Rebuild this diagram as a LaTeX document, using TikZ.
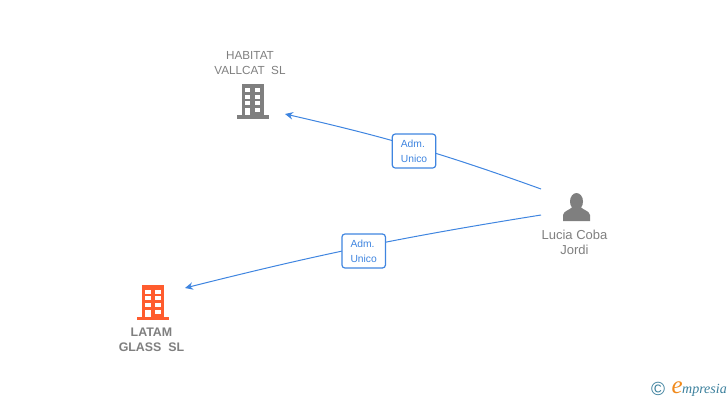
\documentclass[tikz,border=0pt]{standalone}
\usepackage{fontspec}
\usetikzlibrary{arrows.meta}
\setmainfont{Liberation Sans}
\newfontfamily\logofont{Liberation Serif}
\definecolor{nodegrey}{HTML}{7F7F7F}
\definecolor{linkblue}{HTML}{3F85E0}
\definecolor{mainorange}{HTML}{FF5C2E}
\definecolor{logoteal}{HTML}{3A7F9C}
\definecolor{logoorange}{HTML}{F08A1D}
\tikzset{
  conn/.style = {draw = linkblue, line width = 1pt, -{Stealth[length = 8pt, width = 7.5pt]}},
  rolebox/.style = {draw = linkblue, fill = white, rounded corners = 3pt, line width = 1.2pt, minimum width = 43.5pt, minimum height = 34pt, inner sep = 0pt, align = left, text = linkblue, font = \fontsize{10.3}{15}\selectfont},
  nodetext/.style = {text = nodegrey, align = center, inner sep = 0pt, font = \fontsize{11.7}{15}\selectfont},
  pics/buildingicon/.style = {code = {
    \fill[#1] (-11, -16.5) rectangle (11, 16);
    \fill[#1] (-16, 15) rectangle (16, 18.5);
    \foreach \ypos in {-12, -5.5, 1} {
      \fill[white] (-7.7, \ypos) rectangle (-2.3, \ypos + 4.4);
      \fill[white] (2.3, \ypos) rectangle (7.7, \ypos + 4.4);
    }
    \fill[white] (-7.7, 8) rectangle (-2.3, 15);
    \fill[white] (2.3, 8) rectangle (7.7, 12.4);
  }}
}
\begin{document}
\begin{tikzpicture}[x = 1pt, y = -1pt]
\useasboundingbox (0, 0) rectangle (728, 400);
% companies
\pic at (252.5, 100) {buildingicon = nodegrey};
\pic at (153, 301.5) {buildingicon = mainorange};
\node[nodetext] (habitat) at (250, 62.7) {HABITAT\\VALLCAT\ \ SL};
\node[nodetext, font = \fontsize{12.4}{15}\selectfont\bfseries] (latam) at (151.5, 340) {LATAM\\GLASS\ \ SL};
% person
\fill[nodegrey] (576.5, 201.5) ellipse (6.5 and 8.5);
\fill[nodegrey] (563, 221) -- (563, 215) .. controls (564, 210.5) and (569, 210.5) .. (572.5, 207) -- (580.5, 207) .. controls (584, 210.5) and (589, 210.5) .. (590, 215) -- (590, 221) -- cycle;
\node[nodetext, font = \fontsize{13}{15}\selectfont] (lucia) at (574.5, 242) {Lucia Coba\\Jordi};
% links
\coordinate (luciaup) at (541, 189);
\coordinate (lucialow) at (541, 215);
\coordinate (habitatin) at (285, 114);
\coordinate (latamin) at (185, 288);
\draw[conn] (luciaup) to[bend right = 3.5] (habitatin);
\draw[conn] (lucialow) to[bend right = 2.5] (latamin);
\node[rolebox] (roleup) at (414, 151) {Adm.\\Unico};
\node[rolebox] (rolelow) at (363.7, 251) {Adm.\\Unico};
% logo
\node[text = logoteal, inner sep = 0pt, font = \fontsize{19}{19}\selectfont] (copyr) at (658, 389) {©};
\node[text = logoteal, inner sep = 0pt, anchor = base west, font = \logofont\itshape\fontsize{14}{14}\selectfont] (logotext) at (682, 393) {mpresia};
\node[text = logoorange, inner sep = 0pt, anchor = base east, font = \logofont\itshape\fontsize{25}{25}\selectfont] (logoe) at (683, 393.5) {e};
\end{tikzpicture}
\end{document}
